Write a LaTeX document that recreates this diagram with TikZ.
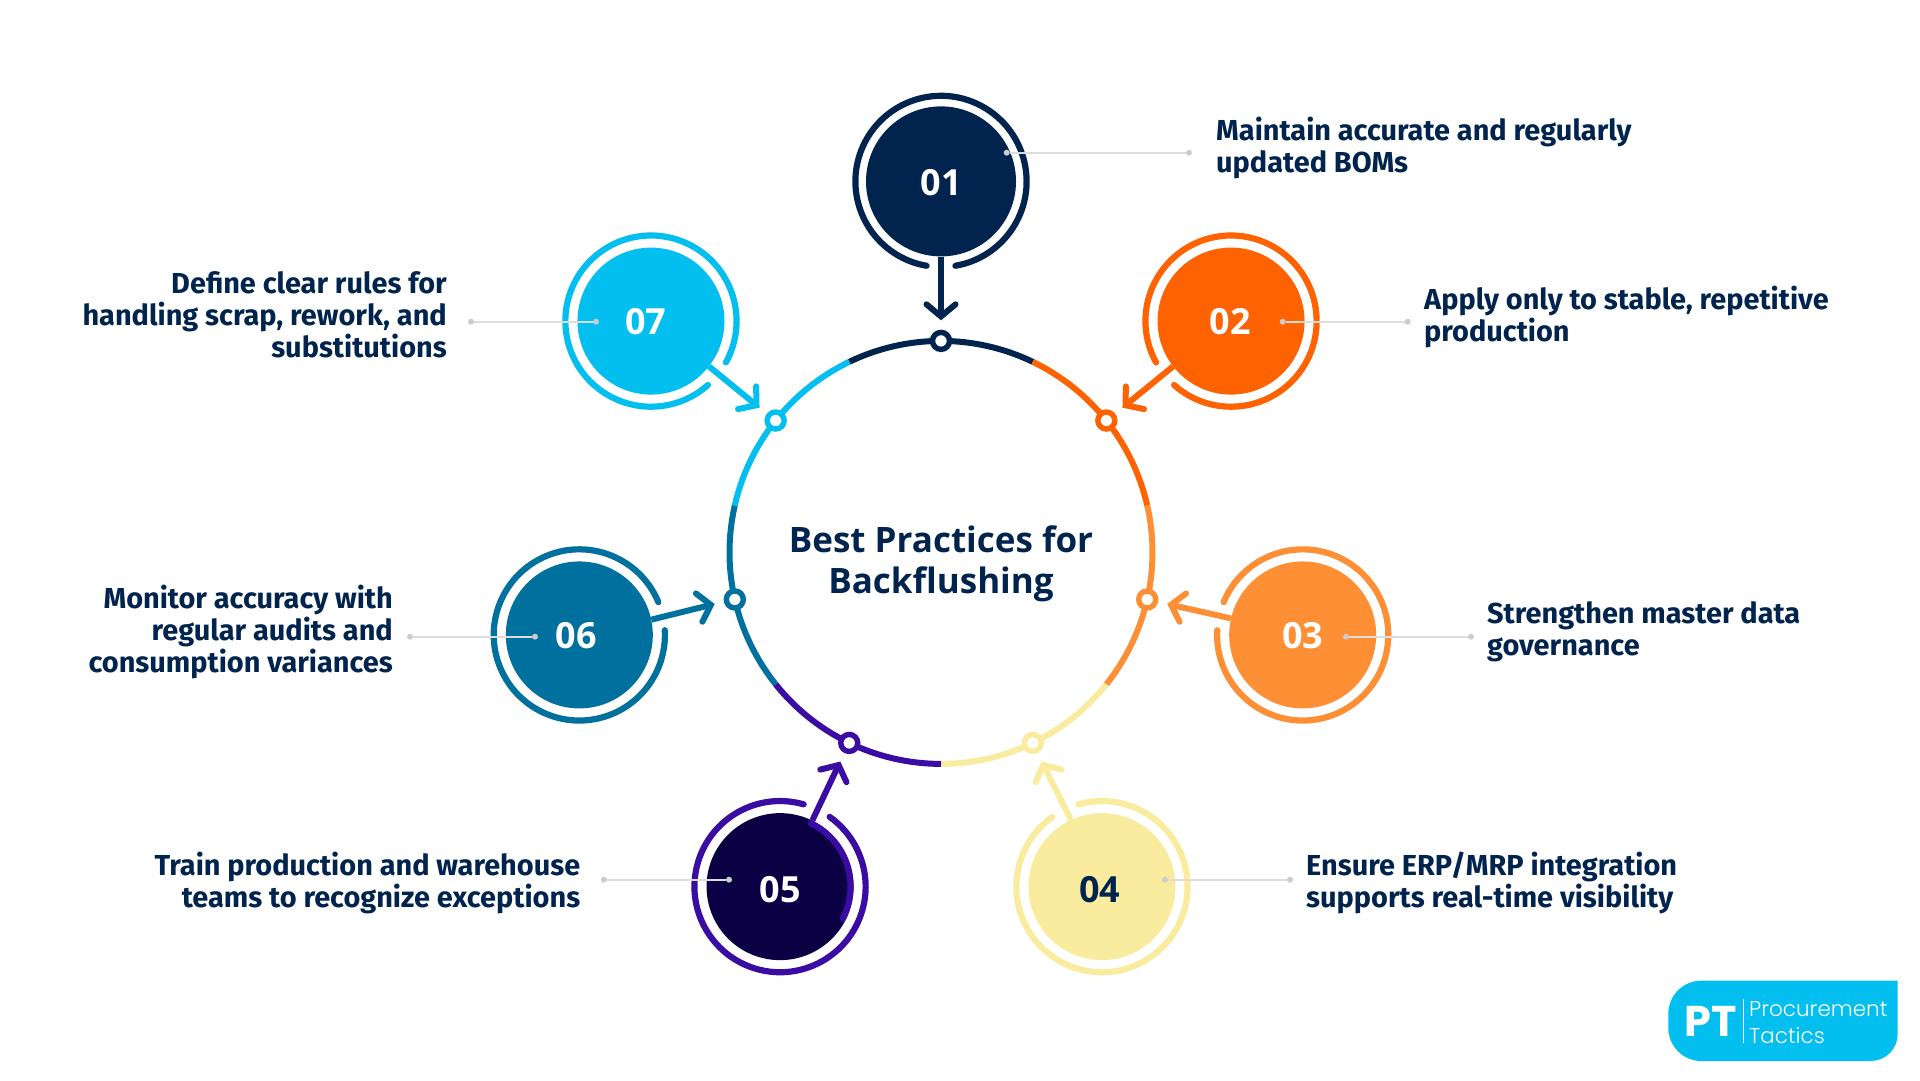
\documentclass[tikz,border=0pt]{standalone}
\usepackage{fontspec}
\usetikzlibrary{calc}
\setmainfont{Open Sans}
\newfontfamily\bodyf{Fira Sans}
\newfontfamily\titlef{Open Sans}
\newfontfamily\logob{Poppins}
\newfontfamily\logol{Poppins Light}
\definecolor{c1}{HTML}{01244E}
\definecolor{c2}{HTML}{FF6200}
\definecolor{c3}{HTML}{FF8F35}
\definecolor{c4}{HTML}{FAEC9F}
\definecolor{c5}{HTML}{3A0CA3}
\definecolor{c6}{HTML}{00719F}
\definecolor{c7}{HTML}{03BFF0}
\definecolor{d5}{HTML}{0C0045}
\definecolor{navytext}{HTML}{01244E}
\definecolor{leadc}{HTML}{DDDDDD}
\definecolor{dotc}{HTML}{CCCCCC}
\tikzset{
  bigarc/.style={line width=6pt},
  hub/.style={circle,draw=#1,line width=5.4pt,fill=white,minimum size=17pt,inner sep=0pt},
  disk/.style={circle,fill=#1,minimum size=147pt,inner sep=0pt},
  ringarc/.style={draw=#1,line width=6.2pt,line cap=round},
  shaft/.style={draw=#1,line width=6pt},
  head/.style={draw=#1,line width=6pt,line cap=round,miter limit=10},
  numtxt/.style={text=#1,inner sep=0pt,font=\titlef\bfseries\fontsize{36}{36}\selectfont},
  leadl/.style={draw=leadc,line width=2pt},
  leadd/.style={circle,fill=dotc,minimum size=6pt,inner sep=0pt},
  bodytxt/.style={text=navytext,inner sep=0pt,font=\bodyf\bfseries\fontsize{28.9}{32}\selectfont},
}
\begin{document}
\begin{tikzpicture}[x=1pt,y=1pt]
\useasboundingbox (0,0) rectangle (1920,1080);
\fill[white] (0,0) rectangle (1920,1080);
\coordinate (C) at (941,527.6);
% ring segments
\foreach \i in {1,...,7}{
  \pgfmathsetmacro{\a}{90-51.42857*(\i-1)}
  \pgfmathsetmacro{\sa}{\a+25.714}
  \pgfmathsetmacro{\ea}{\a-25.714}
  \draw[bigarc,draw=c\i] (C) ++(\sa:211.5) arc[start angle=\sa,end angle=\ea,radius=211.5];
}
% numbered disks, gapped rings, arrows, hubs
\foreach \i/\dc/\tc/\r/\ox/\oy in {
  1/c1/white/75/0/-1.5,
  2/c2/white/73.5/-1/-1,
  3/c3/white/73.5/0/-1,
  4/c4/c1/73.5/-2/-3,
  5/d5/white/73.5/0/-3,
  6/c6/white/73.5/-3/-1,
  7/c7/white/73.5/-5/-1}{
  \pgfmathsetmacro{\a}{90-51.42857*(\i-1)}
  \pgfmathsetmacro{\dir}{\a+180}
  \pgfmathsetmacro{\ga}{\dir+9.7}
  \pgfmathsetmacro{\gb}{\dir+350.3}
  \pgfmathsetmacro{\armA}{\a+3.35}
  \pgfmathsetmacro{\armB}{\a-3.35}
  \node[hub=c\i] (s\i) at ($(C)+(\a:211.5)$) {};
  \node[disk={\dc},minimum size=2*\r pt] (d\i) at ($(C)+(\a:371)$) {};
  \coordinate (tip\i) at ($(C)+(\a:236)$);
  \coordinate (armA\i) at ($(C)+(\armA:248.5)$);
  \coordinate (armB\i) at ($(C)+(\armB:248.5)$);
  \draw[ringarc=c\i] (d\i.center) ++(\ga:85.6) arc[start angle=\ga,end angle=\gb,radius=85.6];
  \draw[shaft=c\i] (d\i.\dir) -- (tip\i);
  \draw[head=c\i] (armA\i) -- (tip\i) -- (armB\i);
  \node[numtxt={\tc}] (n\i) at ($(d\i.center)+(\ox,\oy)$) {0\i};
}
% purple inner stroke on disk 05
\draw[ringarc=c5] (d5.center) ++(64.3:70.5) arc[start angle=64.3,end angle=-27,radius=70.5];
% leaders
\foreach \k/\xa/\xb/\yy in {
  1/1006.7/1189/927.3,
  2/1282.7/1407.7/758.3,
  3/1346/1471/443.3,
  4/1165/1290/200.3,
  5/729/604/200.3,
  6/535/410/443.3,
  7/596/471/758.3}{
  \node[leadd] (la\k) at (\xa,\yy) {};
  \node[leadd] (lb\k) at (\xb,\yy) {};
  \draw[leadl] (la\k) -- (lb\k);
}
% texts
\node[bodytxt,anchor=west,align=left] (t1) at (1216,931.7) {Maintain accurate and regularly\\updated BOMs};
\node[bodytxt,anchor=west,align=left] (t2) at (1424,763) {Apply only to stable, repetitive\\production};
\node[bodytxt,anchor=west,align=left] (t3) at (1487,448) {Strengthen master data\\governance};
\node[bodytxt,anchor=west,align=left] (t4) at (1306,197.5) {Ensure ERP/MRP integration\\supports real-time visibility};
\node[bodytxt,anchor=east,align=right] (t5) at (580.4,197.5) {Train production and warehouse\\teams to recognize exceptions};
\node[bodytxt,anchor=east,align=right] (t6) at (393,448) {Monitor accuracy with\\regular audits and\\consumption variances};
\node[bodytxt,anchor=east,align=right] (t7) at (447,765) {Define clear rules for\\handling scrap, rework, and\\substitutions};
\node[text=navytext,inner sep=0pt,align=center,font=\titlef\bfseries\fontsize{35}{41}\selectfont] (title) at (941,516.5) {Best Practices for\\Backflushing};
% logo
\fill[c7] (1897.7,99.3) -- (1701.3,99.3) arc[start angle=90,end angle=180,radius=33] -- (1668.3,52) arc[start angle=180,end angle=270,radius=33] -- (1870.7,19) arc[start angle=270,end angle=360,radius=27] -- cycle;
\node[anchor=base west,inner sep=0pt,text=white,font=\logob\bfseries\fontsize{43}{43}\selectfont] (ptm) at (1684,44) {PT};
\coordinate (diva) at (1743.3,81);
\coordinate (divb) at (1743.3,37);
\draw[white,line width=1pt] (diva) -- (divb);
\node[anchor=base west,inner sep=0pt,text=white,font=\logol\fontsize{21.5}{21.5}\selectfont] (pr) at (1749,63.3) {Procurement};
\node[anchor=base west,inner sep=0pt,text=white,font=\logol\fontsize{21.5}{21.5}\selectfont] (ta) at (1749,36.7) {Tactics};
\end{tikzpicture}
\end{document}
